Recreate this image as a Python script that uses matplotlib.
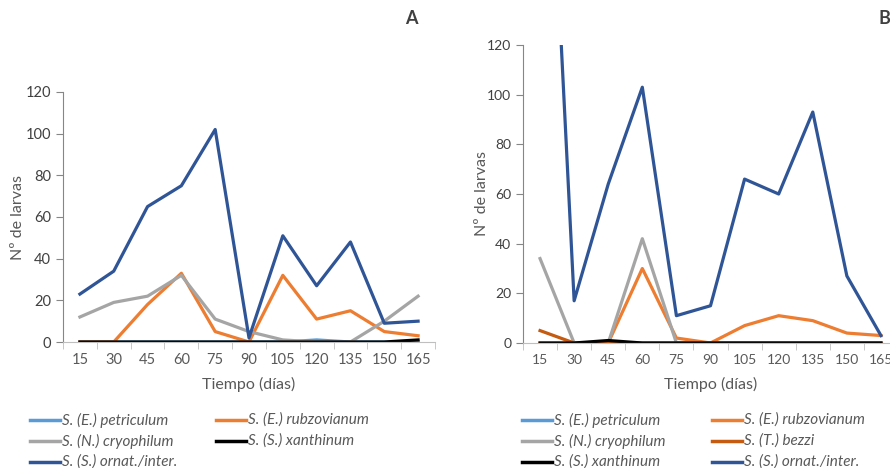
import numpy as np
import matplotlib.pyplot as plt
from matplotlib.lines import Line2D

dias = [15, 30, 45, 60, 75, 90, 105, 120, 135, 150, 165]

# panel A
a_petriculum = [0, 0, 0, 0, 0, 0, 0, 1, 0, 0, 0]
a_rubzovianum = [0, 0, 18, 33, 5, 0, 32, 11, 15, 5, 3]
a_cryophilum = [12, 19, 22, 32, 11, 5, 1, 0, 0, 10, 22]
a_xanthinum = [0, 0, 0, 0, 0, 0, 0, 0, 0, 0, 1]
a_ornat = [23, 34, 65, 75, 102, 2, 51, 27, 48, 9, 10]

# panel B
b_petriculum = [0, 0, 0, 0, 0, 0, 0, 0, 0, 0, 0]
b_rubzovianum = [0, 0, 0, 30, 2, 0, 7, 11, 9, 4, 3]
b_cryophilum = [34, 0, 0, 42, 0, 0, 0, 0, 0, 0, 0]
b_bezzi = [5, 0, 0, 0, 0, 0, 0, 0, 0, 0, 0]
b_xanthinum = [0, 0, 1, 0, 0, 0, 0, 0, 0, 0, 0]
b_ornat = [290, 17, 64, 103, 11, 15, 66, 60, 93, 27, 3]

C_PET = "#5B9BD5"
C_RUB = "#ED7D31"
C_CRY = "#A5A5A5"
C_XAN = "#000000"
C_ORN = "#2F5597"
C_BEZ = "#C55A11"
TXT = "#595959"

FONT = ["Lato", "DejaVu Sans"]
LEG_FONT = ["Liberation Sans Narrow", "Lato", "DejaVu Sans"]

W, H = 890, 468
fig = plt.figure(figsize=(8.9, 4.68), dpi=100)


def px_axes(l, r, t, b):
    return fig.add_axes([l / W, 1 - b / H, (r - l) / W, (b - t) / H])


def style_axes(ax, fs, ylab_x, l, r, t, b):
    x = np.arange(len(dias))
    ax.set_xlim(-0.5, len(dias) - 0.5)
    ax.set_ylim(0, 120)
    ax.set_yticks(range(0, 121, 20))
    ax.set_xticks(x)
    ax.set_xticklabels([str(d) for d in dias])
    ax.set_xticks(np.arange(-0.5, len(dias)), minor=True)
    ax.tick_params(axis="x", which="major", length=0, pad=8, labelsize=fs, labelcolor=TXT)
    ax.tick_params(axis="x", which="minor", length=5, color="#BFBFBF", direction="out")
    ax.tick_params(axis="y", length=5, color="#868686", labelsize=fs, labelcolor="#404040")
    for s in ["top", "right"]:
        ax.spines[s].set_visible(False)
    ax.spines["bottom"].set_color("#BFBFBF")
    ax.spines["left"].set_color("#868686")
    for lab in ax.get_xticklabels() + ax.get_yticklabels():
        lab.set_family(FONT)
    ax.set_xlabel("Tiempo (días)", family=FONT, fontsize=11.5, color=TXT)
    ax.set_ylabel("Nº de larvas", family=FONT, fontsize=11.5, color=TXT)
    ax.xaxis.set_label_coords(0.5, -(384 - b) / (b - t), transform=ax.transAxes)
    ax.yaxis.set_label_coords((ylab_x - l) / (r - l), 0.5, transform=ax.transAxes)
    ax.yaxis.label.set_va("center")
    ax.xaxis.label.set_va("center")


lw = 2.3
x = np.arange(len(dias))

axA = px_axes(63, 435, 92, 342)
axA.plot(x, a_petriculum, color=C_PET, lw=lw)
axA.plot(x, a_rubzovianum, color=C_RUB, lw=lw)
axA.plot(x, a_cryophilum, color=C_CRY, lw=lw)
axA.plot(x, a_xanthinum, color=C_XAN, lw=lw)
axA.plot(x, a_ornat, color=C_ORN, lw=lw)
style_axes(axA, 10.5, 18, 63, 435, 92, 342)

axB = px_axes(523, 898, 45, 343)
axB.plot(x, b_petriculum, color=C_PET, lw=lw)
axB.plot(x, b_rubzovianum, color=C_RUB, lw=lw)
axB.plot(x, b_cryophilum, color=C_CRY, lw=lw)
axB.plot(x, b_bezzi, color=C_BEZ, lw=lw)
axB.plot(x, b_xanthinum, color=C_XAN, lw=lw)
axB.plot(x, b_ornat, color=C_ORN, lw=lw)
style_axes(axB, 10, 482, 523, 898, 45, 343)

fig.text(411 / W, 1 - 19 / H, "A", fontsize=13, fontweight="bold", color="#404040",
         family=FONT, ha="center", va="center")
fig.text(884 / W, 1 - 19 / H, "B", fontsize=13, fontweight="bold", color="#404040",
         family=FONT, ha="center", va="center")


def legend_item(xl, y, color, label):
    yf = 1 - y / H
    fig.add_artist(Line2D([xl / W, (xl + 30) / W], [yf, yf], color=color, lw=2.5,
                          transform=fig.transFigure))
    fig.text((xl + 32) / W, yf, label, fontsize=11, style="italic", color=TXT,
             family=LEG_FONT, ha="left", va="center")


legend_item(30, 420, C_PET, "S. (E.) petriculum")
legend_item(216, 420, C_RUB, "S. (E.) rubzovianum")
legend_item(30, 441, C_CRY, "S. (N.) cryophilum")
legend_item(216, 441, C_XAN, "S. (S.) xanthinum")
legend_item(30, 462, C_ORN, "S. (S.) ornat./inter.")

legend_item(522, 420, C_PET, "S. (E.) petriculum")
legend_item(712, 420, C_RUB, "S. (E.) rubzovianum")
legend_item(522, 441, C_CRY, "S. (N.) cryophilum")
legend_item(712, 441, C_BEZ, "S. (T.) bezzi")
legend_item(522, 462, C_XAN, "S. (S.) xanthinum")
legend_item(712, 462, C_ORN, "S. (S.) ornat./inter.")

fig.savefig("out.png", dpi=100)
